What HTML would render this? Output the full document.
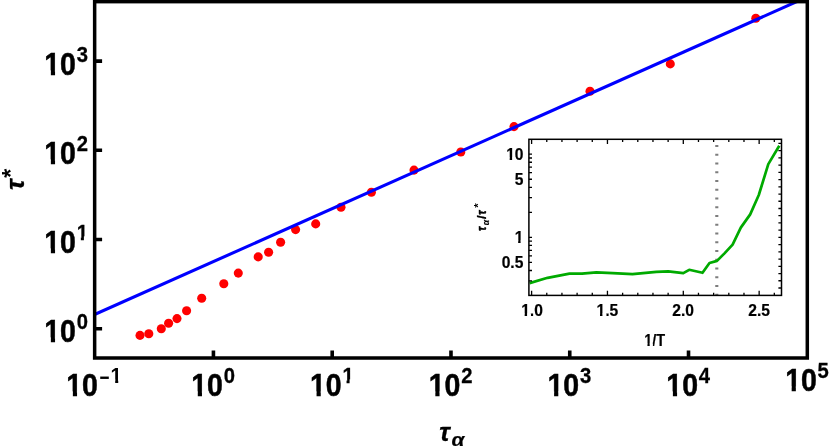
<!DOCTYPE html>
<html><head><meta charset="utf-8"><title>tau star vs tau alpha</title>
<style>html,body{margin:0;padding:0;background:#fff;overflow:hidden;}svg{display:block;will-change:transform;}text{font-family:"Liberation Sans",sans-serif;font-weight:bold;fill:#000;}.m{font-size:31px;stroke:#000;stroke-width:0.5px;}.s{font-size:22px;stroke-width:0.3px;}.i{font-size:15.6px;stroke:#000;stroke-width:0.2px;}</style>
</head><body>
<svg width="830" height="448" viewBox="0 0 830 448">
<rect x="0" y="0" width="830" height="448" fill="#fff"/>
<defs><clipPath id="mc"><rect x="94.65" y="1.65" width="712.65" height="356.35"/></clipPath></defs>
<g fill="#ff0000"><circle cx="140.0" cy="335.4" r="4.55"/><circle cx="148.8" cy="333.7" r="4.55"/><circle cx="161.3" cy="328.7" r="4.55"/><circle cx="168.6" cy="323.2" r="4.55"/><circle cx="177.0" cy="318.6" r="4.55"/><circle cx="186.6" cy="310.7" r="4.55"/><circle cx="201.7" cy="298.2" r="4.55"/><circle cx="223.8" cy="283.7" r="4.55"/><circle cx="238.3" cy="273.1" r="4.55"/><circle cx="258.2" cy="256.9" r="4.55"/><circle cx="268.6" cy="252.2" r="4.55"/><circle cx="280.6" cy="242.2" r="4.55"/><circle cx="295.6" cy="229.6" r="4.55"/><circle cx="315.7" cy="223.9" r="4.55"/><circle cx="341.0" cy="207.3" r="4.55"/><circle cx="371.4" cy="192.2" r="4.55"/><circle cx="414.0" cy="170.1" r="4.55"/><circle cx="460.8" cy="152.0" r="4.55"/><circle cx="514.0" cy="126.6" r="4.55"/><circle cx="590.0" cy="91.2" r="4.55"/><circle cx="670.3" cy="63.9" r="4.55"/><circle cx="755.8" cy="18.3" r="4.55"/></g>
<g clip-path="url(#mc)"><line x1="80" y1="321.02" x2="815" y2="-6.50" stroke="#0000ff" stroke-width="3.1"/></g>
<rect x="94.65" y="1.65" width="712.65" height="356.35" fill="none" stroke="#000" stroke-width="3.5"/>
<path d="M94.65 328.70H102.1M94.65 239.50H102.1M94.65 150.30H102.1M94.65 61.10H102.1M213.43 358.0V350.4M332.20 358.0V350.4M450.98 358.0V350.4M569.75 358.0V350.4M688.52 358.0V350.4" stroke="#000" stroke-width="3.6" fill="none"/>
<g transform="translate(43.70 342.00) scale(0.92 1)"><text class="m" x="0.7" y="0">1<tspan dx="-0.1">0</tspan><tspan class="s" dx="0.9" dy="-13">0</tspan></text><rect x="0.65" y="-4.56" width="7.13" height="6.66" fill="#fff"/><rect x="12.34" y="-4.56" width="6.39" height="6.66" fill="#fff"/></g>
<g transform="translate(43.70 253.00) scale(0.92 1)"><text class="m" x="0.7" y="0">1<tspan dx="-0.1">0</tspan><tspan class="s" dx="0.9" dy="-13">1</tspan></text><rect x="0.65" y="-4.56" width="7.13" height="6.66" fill="#fff"/><rect x="12.34" y="-4.56" width="6.39" height="6.66" fill="#fff"/><rect x="34.77" y="-16.65" width="5.60" height="5.75" fill="#fff"/><rect x="43.68" y="-16.65" width="4.97" height="5.75" fill="#fff"/></g>
<g transform="translate(43.70 164.00) scale(0.92 1)"><text class="m" x="0.7" y="0">1<tspan dx="-0.1">0</tspan><tspan class="s" dx="0.9" dy="-13">2</tspan></text><rect x="0.65" y="-4.56" width="7.13" height="6.66" fill="#fff"/><rect x="12.34" y="-4.56" width="6.39" height="6.66" fill="#fff"/></g>
<g transform="translate(43.70 75.00) scale(0.92 1)"><text class="m" x="0.7" y="0">1<tspan dx="-0.1">0</tspan><tspan class="s" dx="0.9" dy="-13">3</tspan></text><rect x="0.65" y="-4.56" width="7.13" height="6.66" fill="#fff"/><rect x="12.34" y="-4.56" width="6.39" height="6.66" fill="#fff"/></g>
<g transform="translate(65.70 396.00) scale(0.92 1)"><text class="m" x="0.7" y="0">1<tspan dx="-0.1">0</tspan><tspan class="s" dx="0.9" dy="-13"></tspan></text><rect x="0.65" y="-4.56" width="7.13" height="6.66" fill="#fff"/><rect x="12.34" y="-4.56" width="6.39" height="6.66" fill="#fff"/></g>
<g transform="translate(99.4 385.00) scale(0.78 1)"><text class="s" x="0" y="0">−</text></g>
<g transform="translate(110.6 383.00) scale(0.92 1)"><text class="s" x="0" y="0">1</text><rect x="-0.61" y="-3.65" width="5.60" height="5.75" fill="#fff"/><rect x="8.30" y="-3.65" width="4.97" height="5.75" fill="#fff"/></g>
<g transform="translate(190.62 396.00) scale(0.92 1)"><text class="m" x="0.7" y="0">1<tspan dx="-0.1">0</tspan><tspan class="s" dx="0.9" dy="-13">0</tspan></text><rect x="0.65" y="-4.56" width="7.13" height="6.66" fill="#fff"/><rect x="12.34" y="-4.56" width="6.39" height="6.66" fill="#fff"/></g>
<g transform="translate(309.40 396.00) scale(0.92 1)"><text class="m" x="0.7" y="0">1<tspan dx="-0.1">0</tspan><tspan class="s" dx="0.9" dy="-13">1</tspan></text><rect x="0.65" y="-4.56" width="7.13" height="6.66" fill="#fff"/><rect x="12.34" y="-4.56" width="6.39" height="6.66" fill="#fff"/><rect x="34.77" y="-16.65" width="5.60" height="5.75" fill="#fff"/><rect x="43.68" y="-16.65" width="4.97" height="5.75" fill="#fff"/></g>
<g transform="translate(428.18 396.00) scale(0.92 1)"><text class="m" x="0.7" y="0">1<tspan dx="-0.1">0</tspan><tspan class="s" dx="0.9" dy="-13">2</tspan></text><rect x="0.65" y="-4.56" width="7.13" height="6.66" fill="#fff"/><rect x="12.34" y="-4.56" width="6.39" height="6.66" fill="#fff"/></g>
<g transform="translate(546.95 396.00) scale(0.92 1)"><text class="m" x="0.7" y="0">1<tspan dx="-0.1">0</tspan><tspan class="s" dx="0.9" dy="-13">3</tspan></text><rect x="0.65" y="-4.56" width="7.13" height="6.66" fill="#fff"/><rect x="12.34" y="-4.56" width="6.39" height="6.66" fill="#fff"/></g>
<g transform="translate(665.73 396.00) scale(0.92 1)"><text class="m" x="0.7" y="0">1<tspan dx="-0.1">0</tspan><tspan class="s" dx="0.9" dy="-13">4</tspan></text><rect x="0.65" y="-4.56" width="7.13" height="6.66" fill="#fff"/><rect x="12.34" y="-4.56" width="6.39" height="6.66" fill="#fff"/></g>
<g transform="translate(784.50 391.00) scale(0.92 1)"><text class="m" x="0.7" y="0">1<tspan dx="-0.1">0</tspan><tspan class="s" dx="0.9" dy="-13">5</tspan></text><rect x="0.65" y="-4.56" width="7.13" height="6.66" fill="#fff"/><rect x="12.34" y="-4.56" width="6.39" height="6.66" fill="#fff"/></g>
<text x="439.2" y="441" font-size="26" font-style="italic" stroke="#000" stroke-width="0.3">τ</text>
<g transform="translate(451.4 445.5) scale(1.1 1)"><text x="0" y="0" font-size="19" font-style="italic" font-weight="normal" stroke="#000" stroke-width="0.2">α</text></g>
<text transform="translate(24.0,190.1) rotate(-90)" font-size="26" font-style="italic" stroke="#000" stroke-width="0.3">τ<tspan font-size="23" font-style="normal" stroke-width="0" dx="1.8" dy="-5.5">*</tspan></text>
<line x1="716.8" y1="144.9" x2="716.8" y2="295.4" stroke="#7d7d7d" stroke-width="3.1" stroke-dasharray="2 6.75"/>
<polyline fill="none" stroke="#00aa00" stroke-width="2.7" stroke-linejoin="round" stroke-linecap="butt" points="529.6,283.1 547.6,277.8 569.5,273.7 582,273.7 596.4,272.3 612.7,273.1 632.5,274.1 656.3,271.9 668.2,271.4 683.3,273.2 689.2,269.8 702.5,272.8 709.5,263.0 717.0,260.9 724.5,253.4 732.6,244.6 740.8,227.6 750.2,214.4 758.8,195.0 768.3,164.1 779.3,145.8"/>
<rect x="528.9" y="139.3" width="252.60" height="156.10" fill="none" stroke="#000" stroke-width="1.5"/>
<path d="M531.60 295.4v-4.7M531.60 139.3v4.7M546.77 295.4v-2.6M546.77 139.3v2.6M561.94 295.4v-2.6M561.94 139.3v2.6M577.11 295.4v-2.6M577.11 139.3v2.6M592.28 295.4v-2.6M592.28 139.3v2.6M607.45 295.4v-4.7M607.45 139.3v4.7M622.62 295.4v-2.6M622.62 139.3v2.6M637.79 295.4v-2.6M637.79 139.3v2.6M652.96 295.4v-2.6M652.96 139.3v2.6M668.13 295.4v-2.6M668.13 139.3v2.6M683.30 295.4v-4.7M683.30 139.3v4.7M698.47 295.4v-2.6M698.47 139.3v2.6M713.64 295.4v-2.6M713.64 139.3v2.6M728.81 295.4v-2.6M728.81 139.3v2.6M743.98 295.4v-2.6M743.98 139.3v2.6M759.15 295.4v-4.7M759.15 139.3v4.7M774.32 295.4v-2.6M774.32 139.3v2.6M528.9 280.90h3.1M528.9 270.51h3.1M528.9 262.45h3.1M528.9 255.86h3.1M528.9 250.29h3.1M528.9 245.46h3.1M528.9 241.21h3.1M528.9 237.40h3.1M528.9 212.35h3.1M528.9 197.70h3.1M528.9 187.31h3.1M528.9 179.25h3.1M528.9 172.66h3.1M528.9 167.09h3.1M528.9 162.26h3.1M528.9 158.01h3.1M528.9 154.20h3.1M781.5 287.99h-3.1M781.5 280.76h-3.1M781.5 273.53h-3.1M781.5 266.31h-3.1M781.5 259.08h-3.1M781.5 251.85h-3.1M781.5 244.63h-3.1M781.5 237.40h-3.1M781.5 230.17h-3.1M781.5 222.95h-3.1M781.5 215.72h-3.1M781.5 208.49h-3.1M781.5 201.27h-3.1M781.5 194.04h-3.1M781.5 186.81h-3.1M781.5 179.59h-3.1M781.5 172.36h-3.1M781.5 165.13h-3.1M781.5 157.91h-3.1M781.5 150.68h-3.1M781.5 143.45h-3.1" stroke="#000" stroke-width="1.3" fill="none"/>
<text class="i" x="523.54" y="160.00" text-anchor="end">10</text>
<text class="i" x="523.33" y="185.00" text-anchor="end">5</text>
<text class="i" x="523.33" y="243.00" text-anchor="end">1</text>
<text class="i" x="523.33" y="268.00" text-anchor="end">0.5</text>
<text class="i" x="521.16" y="316">1.0</text>
<text class="i" x="596.51" y="316">1.5</text>
<text class="i" x="672.36" y="316">2.0</text>
<text class="i" x="748.21" y="316">2.5</text>
<g transform="translate(644.19 346) scale(0.93 1)"><text class="i" x="0" y="0">1/T</text><rect x="-0.62" y="-2.49" width="4.11" height="3.49" fill="#fff"/><rect x="5.93" y="-2.49" width="3.36" height="3.49" fill="#fff"/></g>
<g transform="translate(485.7 231.1) rotate(-90)" font-style="italic"><g transform="scale(0.86 1)"><text x="0" y="0" font-size="12.5" stroke="#000" stroke-width="0.45">τ</text></g><text x="5.8" y="3.1" font-size="8.6" font-weight="normal" stroke="#000" stroke-width="0.2">α</text><text x="12.1" y="0" font-size="13.4" font-style="normal" stroke="#000" stroke-width="0.2">/</text><g transform="translate(16.3 0) scale(0.86 1)"><text x="0" y="0" font-size="12.5" stroke="#000" stroke-width="0.45">τ</text></g><text x="23.3" y="-3.5" font-size="11.5" font-style="normal">*</text></g>
<g fill="#fff"><rect x="505.57" y="157.51" width="4.11" height="3.49"/><rect x="512.12" y="157.51" width="3.86" height="3.49"/><rect x="514.04" y="240.51" width="4.11" height="3.49"/><rect x="520.59" y="240.51" width="3.86" height="3.49"/><rect x="520.54" y="313.51" width="4.11" height="3.49"/><rect x="527.09" y="313.51" width="3.86" height="3.49"/><rect x="595.89" y="313.51" width="4.11" height="3.49"/><rect x="602.44" y="313.51" width="3.86" height="3.49"/></g>
</svg></body></html>
